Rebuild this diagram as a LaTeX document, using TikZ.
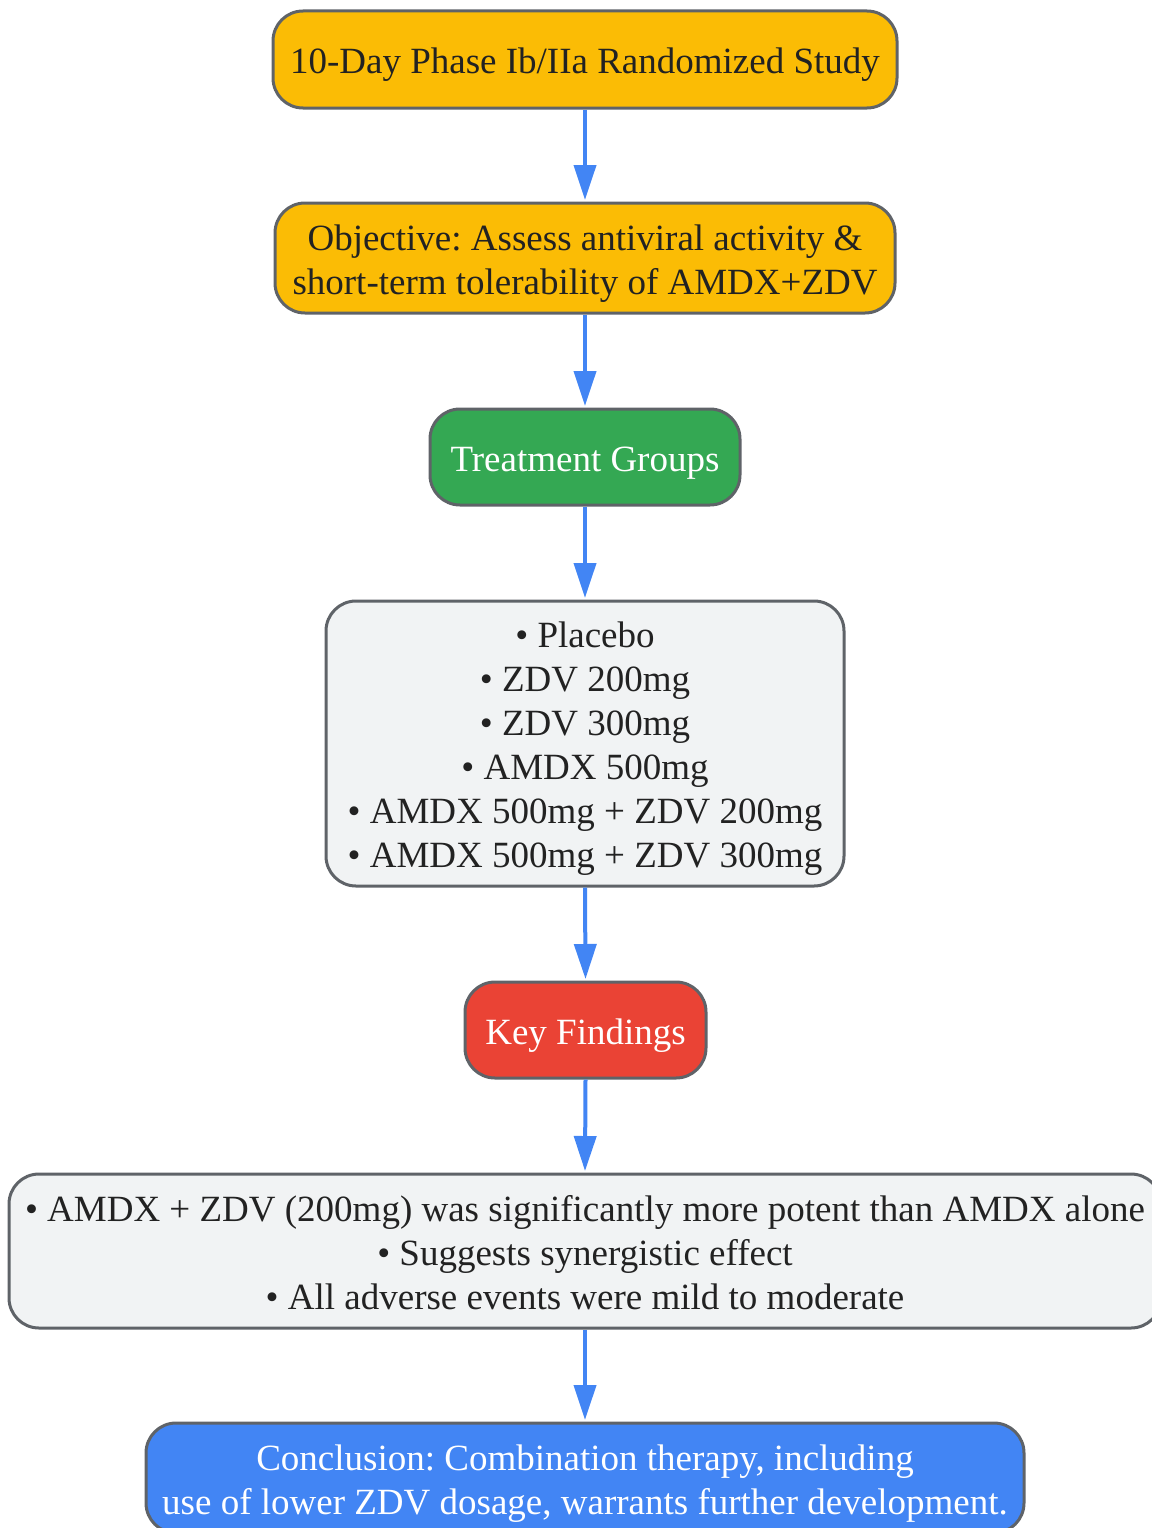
\documentclass[tikz,border=0pt]{standalone}
\usepackage{fontspec}
\setmainfont{Liberation Serif}
\usetikzlibrary{arrows.meta}
\definecolor{gyel}{HTML}{FBBC05}
\definecolor{ggreen}{HTML}{34A853}
\definecolor{gred}{HTML}{EA4335}
\definecolor{gblue}{HTML}{4285F4}
\definecolor{glight}{HTML}{F1F3F4}
\definecolor{bordergray}{HTML}{5F6368}
\definecolor{txt}{HTML}{222222}
\frenchspacing
\newcommand{\topstrut}{\rule{0pt}{36.5pt}}
\begin{document}
\begin{tikzpicture}[x=1pt,y=-1pt,
  box/.style={draw=bordergray, line width=3pt, rounded corners=30pt, align=center,
    font=\fontsize{37}{44}\selectfont\frenchspacing, text=txt, inner sep=0pt},
  flow/.style={draw=gblue, line width=4pt, shorten >=1.5pt,
    -{Triangle[length=35pt,width=22pt]}}]
\useasboundingbox (0,0) rectangle (1151,1528);
\node[box, fill=gyel, minimum width=624pt, minimum height=97pt] (n1) at (585,59.5)
  {\topstrut 10-Day Phase Ib/IIa Randomized Study};
\node[box, fill=gyel, minimum width=620pt, minimum height=110pt] (n2) at (585,258)
  {\topstrut Objective: Assess antiviral activity \&\\short-term tolerability of AMDX+ZDV};
\node[box, fill=ggreen, text=white, minimum width=310pt, minimum height=96pt] (n3) at (585,457)
  {\topstrut Treatment Groups};
\node[box, fill=glight, minimum width=518pt, minimum height=285pt] (n4) at (585,743.5)
  {\topstrut • Placebo\\• ZDV 200mg\\• ZDV 300mg\\• AMDX 500mg\\• AMDX 500mg + ZDV 200mg\\• AMDX 500mg + ZDV 300mg};
\node[box, fill=gred, text=white, minimum width=241pt, minimum height=96pt] (n5) at (585.5,1030)
  {\topstrut Key Findings};
\node[box, fill=glight, minimum width=1152pt, minimum height=154pt] (n6) at (585,1251)
  {\rule{0pt}{29pt}• AMDX + ZDV (200mg) was significantly more potent than AMDX alone\\• Suggests synergistic effect\\• All adverse events were mild to moderate};
\node[box, fill=gblue, text=white, minimum width=878pt, minimum height=110pt] (n7) at (585,1478)
  {\topstrut Conclusion: Combination therapy, including\\use of lower ZDV dosage, warrants further development.};
\draw[flow] (n1.south) -- (n2.north);
\draw[flow] (n2.south) -- (n3.north);
\draw[flow] (n3.south) -- (n4.north);
\draw[flow] (n4.south) -- (n5.north);
\draw[flow] (n5.south) -- (n6.north);
\draw[flow] (n6.south) -- (n7.north);
\end{tikzpicture}
\end{document}
